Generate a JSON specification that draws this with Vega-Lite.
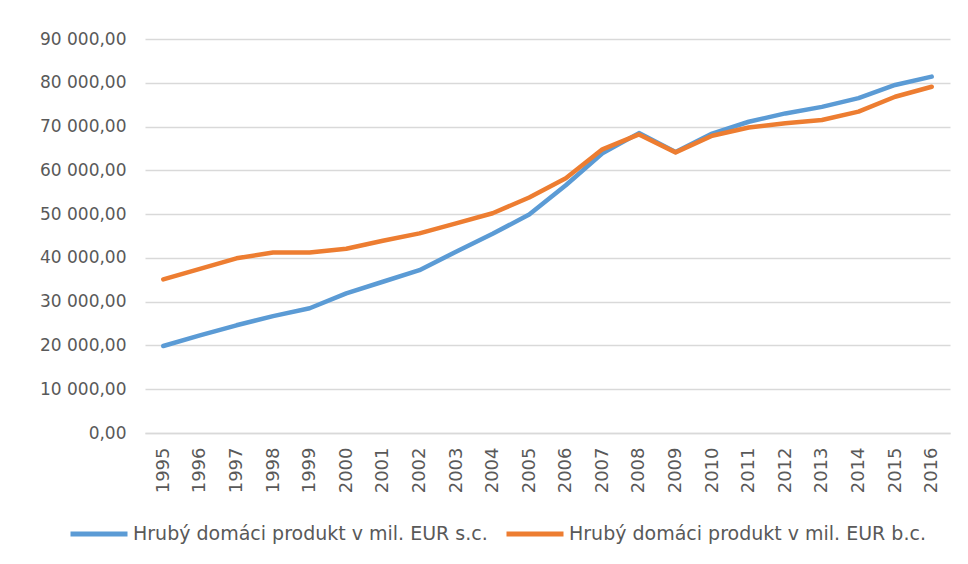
{
  "$schema": "https://vega.github.io/schema/vega-lite/v6.json",
  "width": 805,
  "height": 394,
  "autosize": {"type": "none"},
  "padding": {"left": 145, "top": 39, "right": 18, "bottom": 131},
  "background": "white",
  "config": {
    "locale": {"number": {"decimal": ",", "thousands": " ", "grouping": [3], "currency": ["", ""]}},
    "view": {"stroke": null},
    "font": "DejaVu Sans"
  },
  "data": {
    "values": [
      {"year": "1995", "series": "Hrubý domáci produkt v mil. EUR s.c.", "value": 19870},
      {"year": "1996", "series": "Hrubý domáci produkt v mil. EUR s.c.", "value": 22300},
      {"year": "1997", "series": "Hrubý domáci produkt v mil. EUR s.c.", "value": 24600},
      {"year": "1998", "series": "Hrubý domáci produkt v mil. EUR s.c.", "value": 26700},
      {"year": "1999", "series": "Hrubý domáci produkt v mil. EUR s.c.", "value": 28500},
      {"year": "2000", "series": "Hrubý domáci produkt v mil. EUR s.c.", "value": 31900},
      {"year": "2001", "series": "Hrubý domáci produkt v mil. EUR s.c.", "value": 34550},
      {"year": "2002", "series": "Hrubý domáci produkt v mil. EUR s.c.", "value": 37200},
      {"year": "2003", "series": "Hrubý domáci produkt v mil. EUR s.c.", "value": 41400},
      {"year": "2004", "series": "Hrubý domáci produkt v mil. EUR s.c.", "value": 45500},
      {"year": "2005", "series": "Hrubý domáci produkt v mil. EUR s.c.", "value": 49900},
      {"year": "2006", "series": "Hrubý domáci produkt v mil. EUR s.c.", "value": 56600},
      {"year": "2007", "series": "Hrubý domáci produkt v mil. EUR s.c.", "value": 63900},
      {"year": "2008", "series": "Hrubý domáci produkt v mil. EUR s.c.", "value": 68500},
      {"year": "2009", "series": "Hrubý domáci produkt v mil. EUR s.c.", "value": 64200},
      {"year": "2010", "series": "Hrubý domáci produkt v mil. EUR s.c.", "value": 68400},
      {"year": "2011", "series": "Hrubý domáci produkt v mil. EUR s.c.", "value": 71100},
      {"year": "2012", "series": "Hrubý domáci produkt v mil. EUR s.c.", "value": 73000},
      {"year": "2013", "series": "Hrubý domáci produkt v mil. EUR s.c.", "value": 74500},
      {"year": "2014", "series": "Hrubý domáci produkt v mil. EUR s.c.", "value": 76500},
      {"year": "2015", "series": "Hrubý domáci produkt v mil. EUR s.c.", "value": 79500},
      {"year": "2016", "series": "Hrubý domáci produkt v mil. EUR s.c.", "value": 81400},
      {"year": "1995", "series": "Hrubý domáci produkt v mil. EUR b.c.", "value": 35100},
      {"year": "1996", "series": "Hrubý domáci produkt v mil. EUR b.c.", "value": 37500},
      {"year": "1997", "series": "Hrubý domáci produkt v mil. EUR b.c.", "value": 39900},
      {"year": "1998", "series": "Hrubý domáci produkt v mil. EUR b.c.", "value": 41250},
      {"year": "1999", "series": "Hrubý domáci produkt v mil. EUR b.c.", "value": 41250},
      {"year": "2000", "series": "Hrubý domáci produkt v mil. EUR b.c.", "value": 42100},
      {"year": "2001", "series": "Hrubý domáci produkt v mil. EUR b.c.", "value": 43900},
      {"year": "2002", "series": "Hrubý domáci produkt v mil. EUR b.c.", "value": 45600},
      {"year": "2003", "series": "Hrubý domáci produkt v mil. EUR b.c.", "value": 47900},
      {"year": "2004", "series": "Hrubý domáci produkt v mil. EUR b.c.", "value": 50200},
      {"year": "2005", "series": "Hrubý domáci produkt v mil. EUR b.c.", "value": 53800},
      {"year": "2006", "series": "Hrubý domáci produkt v mil. EUR b.c.", "value": 58200},
      {"year": "2007", "series": "Hrubý domáci produkt v mil. EUR b.c.", "value": 64800},
      {"year": "2008", "series": "Hrubý domáci produkt v mil. EUR b.c.", "value": 68200},
      {"year": "2009", "series": "Hrubý domáci produkt v mil. EUR b.c.", "value": 64100},
      {"year": "2010", "series": "Hrubý domáci produkt v mil. EUR b.c.", "value": 67900},
      {"year": "2011", "series": "Hrubý domáci produkt v mil. EUR b.c.", "value": 69800},
      {"year": "2012", "series": "Hrubý domáci produkt v mil. EUR b.c.", "value": 70750},
      {"year": "2013", "series": "Hrubý domáci produkt v mil. EUR b.c.", "value": 71500},
      {"year": "2014", "series": "Hrubý domáci produkt v mil. EUR b.c.", "value": 73400},
      {"year": "2015", "series": "Hrubý domáci produkt v mil. EUR b.c.", "value": 76800},
      {"year": "2016", "series": "Hrubý domáci produkt v mil. EUR b.c.", "value": 79100}
    ]
  },
  "mark": {"type": "line", "strokeWidth": 4.5, "strokeCap": "round", "strokeJoin": "round"},
  "encoding": {
    "x": {
      "field": "year",
      "type": "ordinal",
      "scale": {"type": "point", "padding": 0.5},
      "axis": {
        "title": null,
        "labelAngle": -90,
        "labelFontSize": 18,
        "labelColor": "#595959",
        "labelPadding": 14,
        "ticks": false,
        "domain": true,
        "domainColor": "#d9d9d9",
        "domainWidth": 1.5,
        "grid": false
      }
    },
    "y": {
      "field": "value",
      "type": "quantitative",
      "scale": {"domain": [0, 90000], "nice": false},
      "axis": {
        "title": null,
        "values": [0, 10000, 20000, 30000, 40000, 50000, 60000, 70000, 80000, 90000],
        "format": ",.2f",
        "labelFontSize": 17,
        "labelColor": "#595959",
        "labelPadding": 19,
        "ticks": false,
        "domain": false,
        "gridColor": "#d9d9d9",
        "gridWidth": 1.5
      }
    },
    "color": {
      "field": "series",
      "type": "nominal",
      "sort": ["Hrubý domáci produkt v mil. EUR s.c.", "Hrubý domáci produkt v mil. EUR b.c."],
      "scale": {"range": ["#5b9bd5", "#ed7d31"]},
      "legend": {
        "title": null,
        "orient": "none",
        "direction": "horizontal",
        "legendX": -77,
        "legendY": 464,
        "symbolType": "stroke",
        "symbolSize": 3249,
        "symbolStrokeWidth": 5,
        "labelFontSize": 19,
        "labelColor": "#595959",
        "labelOffset": 3,
        "columnPadding": 8,
        "labelLimit": 500
      }
    }
  }
}
